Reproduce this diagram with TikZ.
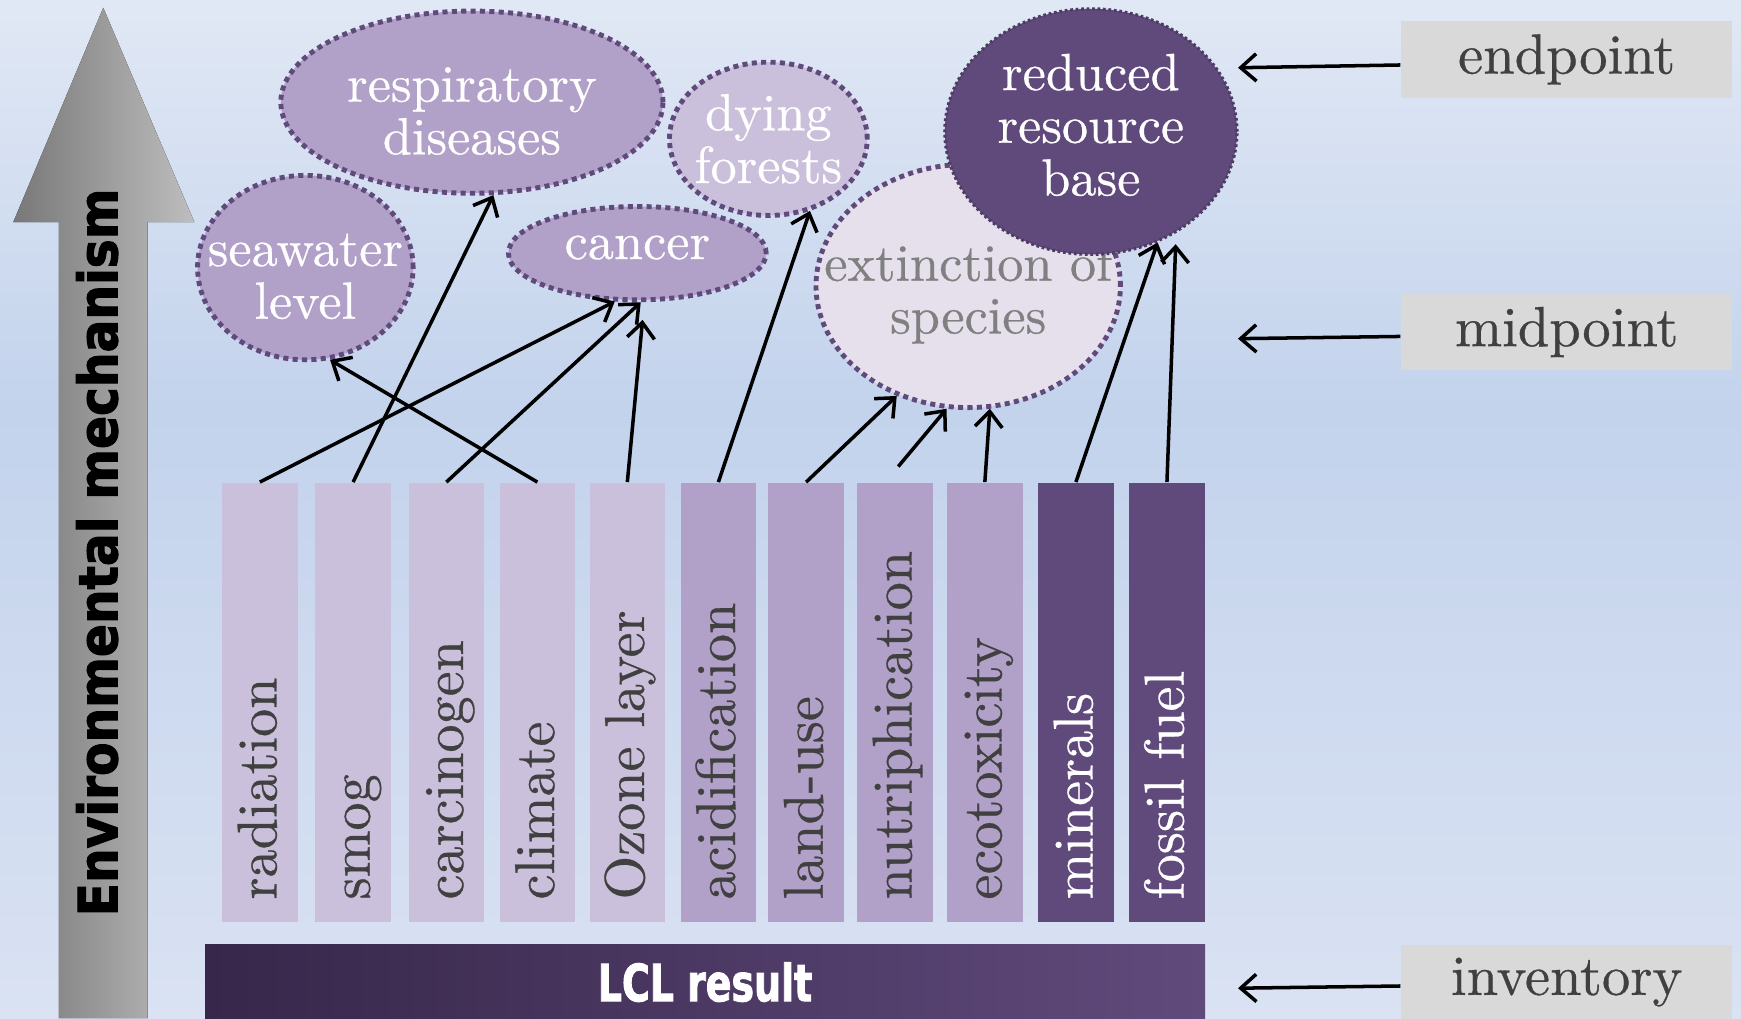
\documentclass[tikz,border=0pt]{standalone}
\usepackage{fontspec}
\setmainfont{lmroman10-regular.otf}[FakeBold=0.5]
\newfontfamily\heavyfont{DejaVu Sans Condensed}[FakeBold=2]
\usetikzlibrary{shapes.geometric,arrows.meta}

\definecolor{bgtop}{RGB}{225,232,245}
\definecolor{bgmid}{RGB}{195,211,236}
\definecolor{bgbot}{RGB}{218,226,243}
\definecolor{lightbar}{RGB}{202,192,220}
\definecolor{midbar}{RGB}{177,160,200}
\definecolor{darkbar}{RGB}{96,74,124}
\definecolor{palefill}{RGB}{230,224,237}
\definecolor{txtgray}{RGB}{64,64,64}
\definecolor{midgray}{RGB}{128,128,128}
\definecolor{boxgray}{RGB}{217,217,217}
\definecolor{lcldark}{RGB}{55,39,74}
\definecolor{arrowdark}{RGB}{120,120,120}
\definecolor{arrowlight}{RGB}{190,190,190}

\pgfdeclareverticalshading{bgshade}{100bp}{color(0bp)=(bgbot); color(25bp)=(bgbot); color(55bp)=(bgmid); color(75bp)=(bgtop); color(100bp)=(bgtop)}

\tikzset{
  bar/.style={rectangle, inner sep=0pt, minimum width=0.68cm, minimum height=3.95cm},
  bartext/.style={rotate=90, anchor=base west, inner sep=0pt, font=\fontsize{14.4}{17}\selectfont},
  blob/.style={ellipse, inner sep=0pt, draw=darkbar, line width=1.25pt, dash pattern=on 1.3pt off 1.1pt},
  blobtext/.style={text=white, align=center, inner sep=0pt, font=\fontsize{13.4}{13.5}\selectfont},
  sidebox/.style={rectangle, fill=boxgray, minimum width=2.98cm, minimum height=0.67cm, text=txtgray, font=\fontsize{14.5}{17}\selectfont},
  arr/.style={draw=black, line width=0.9pt, -{Straight Barb[length=4pt,width=7pt]}}
}

\begin{document}
\begin{tikzpicture}[x=0.01cm, y=-0.01cm]
  \useasboundingbox (0,0) rectangle (1568,917);
  \shade[shading=bgshade] (0,0) rectangle (1568,917);

  % rising arrow on the left
  \fill[left color=arrowdark, right color=arrowlight]
    (53,917) -- (53,200) -- (12,200) -- (93,7) -- (175,200) -- (133,200) -- (133,917) -- cycle;
  \node[rotate=90, inner sep=0pt] (mech) at (87.5,497.5)
    {\resizebox{6.55cm}{0.37cm}{\heavyfont\bfseries Environmental mechanism}};

  % impact category bars
  \foreach \nm/\cx/\fc/\tc/\lbl in {
    radiation/234/lightbar/txtgray/radiation,
    smog/318/lightbar/txtgray/smog,
    carcinogen/402/lightbar/txtgray/carcinogen,
    climate/484/lightbar/txtgray/climate,
    ozone/565/lightbar/txtgray/Ozone layer,
    acid/647/midbar/txtgray/acidification,
    landuse/726/midbar/txtgray/land-use,
    nutri/806/midbar/txtgray/nutriphication,
    ecotox/887/midbar/txtgray/ecotoxicity,
    minerals/969/darkbar/white/minerals,
    fossil/1051/darkbar/white/fossil fuel}
  {
    \node[bar, fill=\fc] (\nm) at (\cx,632.5) {};
    \node[bartext, text=\tc] (\nm-lbl) at ([xshift=0.15cm,yshift=0.2cm]\nm.south) {\lbl};
  }

  % inventory bar
  \node[rectangle, inner sep=0pt, minimum width=9cm, minimum height=0.67cm,
        left color=lcldark, right color=darkbar, text=white] (lcl) at (635,884.5)
    {\resizebox{1.93cm}{0.35cm}{\heavyfont\bfseries LCL result}};

  % damage ellipses
  \node[blob, fill=midbar, minimum width=3.44cm, minimum height=1.64cm,
        label={[blobtext, yshift=-0.08cm]center:respiratory\\diseases}] (resp) at (425,92) {};
  \node[blob, fill=midbar, minimum width=1.94cm, minimum height=1.66cm,
        label={[blobtext, yshift=-0.08cm]center:seawater\\level}] (sea) at (275,241) {};
  \node[blob, fill=midbar, minimum width=2.32cm, minimum height=0.84cm,
        label={[blobtext, yshift=0.05cm]center:cancer}] (cancer) at (574,228) {};
  \node[blob, fill=lightbar, minimum width=1.78cm, minimum height=1.38cm,
        label={[blobtext]center:dying\\forests}] (dying) at (692,125) {};
  \node[blob, fill=palefill, minimum width=2.74cm, minimum height=2.19cm,
        label={[blobtext, text=midgray, yshift=-0.07cm]center:extinction of\\species}] (ext) at (872,257.5) {};
  \node[blob, fill=darkbar, draw=darkbar!80!black, line width=0.8pt, dash pattern=on 0.7pt off 0.7pt,
        minimum width=2.63cm, minimum height=2.21cm,
        label={[blobtext, yshift=0.06cm]center:reduced\\resource\\base}] (red) at (982.5,118.5) {};

  % links from categories to damages
  \draw[arr] (radiation.north) -- (cancer.245);
  \draw[arr] (smog.north) -- (resp.283);
  \draw[arr] (carcinogen.north) -- (cancer.274);
  \draw[arr] (climate.north) -- (sea.285);
  \draw[arr, shorten >=0.16cm] (ozone.north) -- (cancer.278);
  \draw[arr] (acid.north) -- (dying.300);
  \draw[arr] (landuse.north) -- (ext.237);
  \draw[arr] ([xshift=0.03cm,yshift=0.14cm]nutri.north) -- (ext.260);
  \draw[arr] (ecotox.north) -- (ext.280);
  \draw[arr] (minerals.north) -- (red.301);
  \draw[arr, shorten >=0.1cm] (fossil.north) -- (red.310);

  % level labels on the right
  \node[sidebox] (endpt) at (1411,53.5) {endpoint};
  \node[sidebox] (midpt) at (1411,299) {midpoint};
  \node[sidebox] (invt) at (1411,884.5) {inventory};
  \coordinate (endtip) at (1115,61);
  \coordinate (midtip) at (1115,305);
  \coordinate (invtip) at (1115,890);
  \draw[arr] ([yshift=-0.05cm]endpt.west) -- (endtip);
  \draw[arr] ([yshift=-0.04cm]midpt.west) -- (midtip);
  \draw[arr] ([yshift=-0.035cm]invt.west) -- (invtip);
\end{tikzpicture}
\end{document}
